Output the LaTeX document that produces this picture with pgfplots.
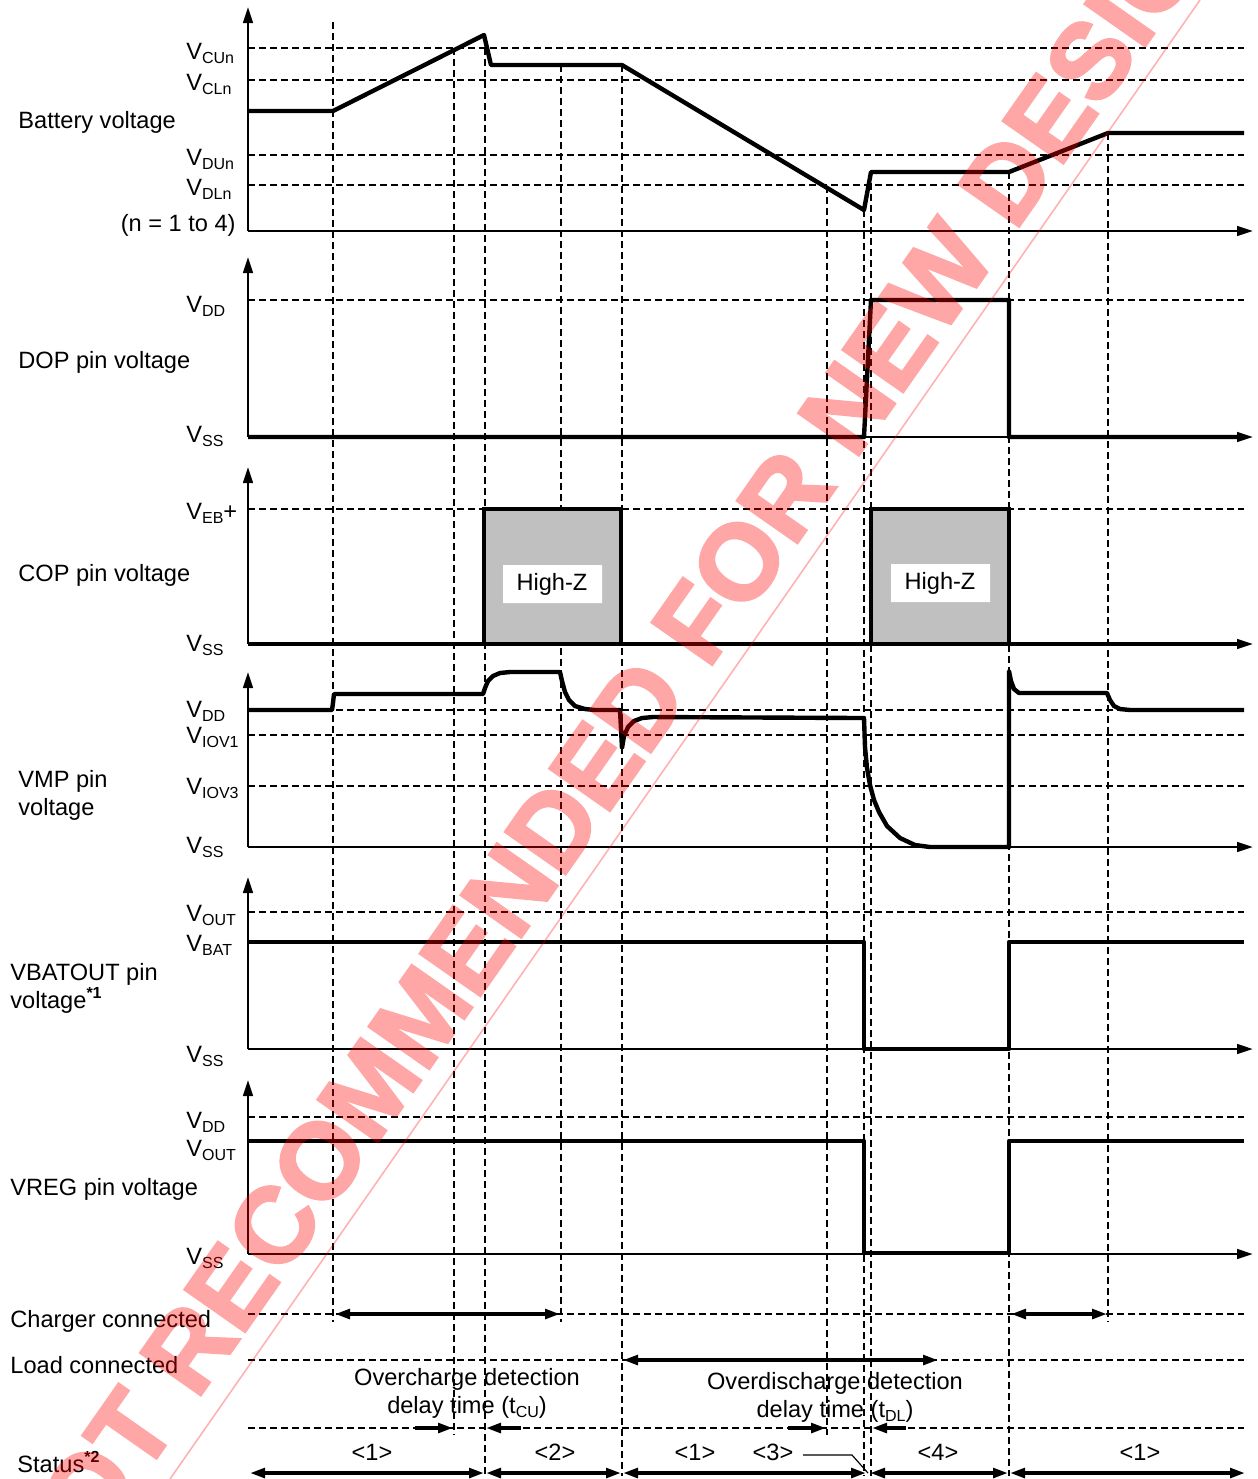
\documentclass[border=0pt]{standalone}
\usepackage{pgfplots}
\pgfplotsset{compat=1.18}
\usetikzlibrary{arrows.meta}
\usepackage{fontspec}
\setmainfont{Liberation Sans}
\newfontfamily\wmfont[FakeBold=2.5]{Liberation Sans Bold}
\newcommand{\sub}[1]{\raisebox{-2pt}{\fontsize{8}{9}\selectfont #1}}
\newcommand{\sups}[1]{\raisebox{5pt}{\fontsize{8}{9}\selectfont\bfseries #1}}
\definecolor{boxgray}{RGB}{192,192,192}
\begin{document}
\begin{tikzpicture}[every node/.style={font=\fontsize{11.8}{14}\selectfont, inner sep=0pt}]
\begin{axis}[hide axis, x=0.5pt, y=0.5pt, y dir=reverse,
  xmin=0, xmax=1258, ymin=0, ymax=1479, clip=false, no markers,
  anchor=origin, at={(0,0)},
  dashedln/.style={black, line width=0.55pt, dash pattern=on 3.5pt off 2pt},
  trace/.style={black, line width=2.2pt, line join=round},
  axisln/.style={black, line width=1.3pt},
  ax/.style={axisln, -{Triangle[length=8pt,width=4.8pt]}},
  dbl/.style={black, line width=1.8pt, {Triangle[length=7.5pt,width=4.8pt]}-{Triangle[length=7.5pt,width=4.8pt]}},
  sgl/.style={black, line width=1.8pt, -{Triangle[length=7.5pt,width=4.8pt]}},
]
\coordinate (TL) at (axis cs:0,0);
\coordinate (BR) at (axis cs:1258,1479);
\coordinate (WM) at (axis cs:620,732);

% horizontal dashed reference lines
\addplot[dashedln, unbounded coords=jump] coordinates {
 (248,48)(1244,48) (nan,nan) (248,80)(1244,80) (nan,nan)
 (248,155)(1244,155) (nan,nan) (248,185)(1244,185) (nan,nan)
 (248,300)(1244,300) (nan,nan) (248,509)(1244,509) (nan,nan)
 (248,710)(1244,710) (nan,nan) (248,735)(1244,735) (nan,nan)
 (248,786)(1244,786) (nan,nan) (248,912)(1244,912) (nan,nan)
 (248,1117)(1244,1117) (nan,nan)
 (248,1314)(1244,1314) (nan,nan) (248,1360)(1244,1360) (nan,nan)
 (248,1428)(1244,1428)};
% vertical dashed time markers
\addplot[dashedln, unbounded coords=jump] coordinates {
 (333,22)(333,1322) (nan,nan) (454,48)(454,1435) (nan,nan)
 (485,37)(485,1476) (nan,nan) (561,65)(561,1322) (nan,nan)
 (622,65)(622,1476) (nan,nan) (827,186)(827,1435) (nan,nan)
 (864,210)(864,1476) (nan,nan) (871,172)(871,1476) (nan,nan)
 (1009,172)(1009,1476) (nan,nan) (1108,133)(1108,1322)};

% COP High-Z boxes
\addplot[fill=boxgray, draw=black, line width=2pt] coordinates {(484,644)(484,509)(621,509)(621,644)(484,644)};
\addplot[fill=boxgray, draw=black, line width=2pt] coordinates {(871,644)(871,509)(1009,509)(1009,644)(871,644)};
\addplot[fill=white, draw=none] coordinates {(503,565)(602,565)(602,603)(503,603)(503,565)};
\addplot[fill=white, draw=none] coordinates {(891,564)(990,564)(990,602)(891,602)(891,564)};
\node[anchor=base] at (axis cs:552,590) {High-Z};
\node[anchor=base] at (axis cs:940,589) {High-Z};

% axes
\addplot[ax] coordinates {(248,231)(248,7)};
\addplot[ax] coordinates {(248,231)(1253,231)};
\addplot[ax] coordinates {(248,437)(248,257)};
\addplot[ax] coordinates {(248,437)(1253,437)};
\addplot[ax] coordinates {(248,644)(248,467)};
\addplot[ax] coordinates {(248,644)(1253,644)};
\addplot[ax] coordinates {(248,847)(248,672)};
\addplot[ax] coordinates {(248,847)(1253,847)};
\addplot[ax] coordinates {(248,1049)(248,877)};
\addplot[ax] coordinates {(248,1049)(1253,1049)};
\addplot[ax] coordinates {(248,1254)(248,1080)};
\addplot[ax] coordinates {(248,1254)(1253,1254)};

% traces
\addplot[trace] coordinates {(248,111)(333,111)(484,35)(491,65)(622,65)(864,210)(871,172)(1009,172)(1108,133)(1244,133)};
\addplot[trace] coordinates {(248,437)(864,437)(871,300)(1009,300)(1009,437)(1244,437)};
\addplot[trace] coordinates {(248,644)(484,644)};
\addplot[trace] coordinates {(621,644)(871,644)};
\addplot[trace] coordinates {(1009,644)(1244,644)};
\addplot[trace] coordinates {(248,710)(332,710)(333,703)(334,694)(483,694)(485,688)(488,681)(493,676)(500,673)(510,672)(560,672)(562,681)(565,692)(569,700)(575,706)(585,709)(595,710)(620,710)(622,748)(624,736)(628,727)(634,721)(642,718)(653,717)(864,718)(865,747)(867,768)(870,785)(874,800)(879,812)(887,826)(900,838)(915,845)(930,847)(1009,847)(1009,671)(1011,681)(1014,689)(1019,693)(1107,693)(1110,700)(1114,706)(1120,709)(1130,710)(1244,710)};
\addplot[trace] coordinates {(248,942)(864,942)(864,1049)(1009,1049)(1009,942)(1244,942)};
\addplot[trace] coordinates {(248,1141)(864,1141)(864,1253)(1009,1253)(1009,1141)(1244,1141)};

% time-span arrows
\addplot[dbl] coordinates {(335,1314)(560,1314)};
\addplot[dbl] coordinates {(1011,1314)(1107,1314)};
\addplot[dbl] coordinates {(623,1360)(938,1360)};
\addplot[sgl] coordinates {(415,1428)(453,1428)};
\addplot[sgl] coordinates {(521,1428)(486,1428)};
\addplot[sgl] coordinates {(788,1428)(826,1428)};
\addplot[sgl] coordinates {(906,1428)(872,1428)};
\addplot[dbl] coordinates {(250,1473)(484,1473)};
\addplot[dbl] coordinates {(486,1473)(621,1473)};
\addplot[dbl] coordinates {(623,1473)(866,1473)};
\addplot[dbl] coordinates {(870,1473)(1008,1473)};
\addplot[dbl] coordinates {(1010,1473)(1245,1473)};
\addplot[black, line width=0.6pt] coordinates {(803,1455)(852,1455)(868,1473)};

% level labels
\node[anchor=base west] at (axis cs:186,59) {V\sub{CUn}};
\node[anchor=base west] at (axis cs:186,90) {V\sub{CLn}};
\node[anchor=base west] at (axis cs:186,165) {V\sub{DUn}};
\node[anchor=base west] at (axis cs:186,195) {V\sub{DLn}};
\node[anchor=base east] at (axis cs:236,231) {(n = 1 to 4)};
\node[anchor=base west] at (axis cs:186,312) {V\sub{DD}};
\node[anchor=base west] at (axis cs:186,442) {V\sub{SS}};
\node[anchor=base west] at (axis cs:186,519) {V\sub{EB}+};
\node[anchor=base west] at (axis cs:186,651) {V\sub{SS}};
\node[anchor=base west] at (axis cs:186,717) {V\sub{DD}};
\node[anchor=base west] at (axis cs:186,743) {V\sub{IOV1}};
\node[anchor=base west] at (axis cs:186,794) {V\sub{IOV3}};
\node[anchor=base west] at (axis cs:186,853) {V\sub{SS}};
\node[anchor=base west] at (axis cs:186,921) {V\sub{OUT}};
\node[anchor=base west] at (axis cs:186,951) {V\sub{BAT}};
\node[anchor=base west] at (axis cs:186,1062) {V\sub{SS}};
\node[anchor=base west] at (axis cs:186,1128) {V\sub{DD}};
\node[anchor=base west] at (axis cs:186,1156) {V\sub{OUT}};
\node[anchor=base west] at (axis cs:186,1264) {V\sub{SS}};

% row labels
\node[anchor=base west] at (axis cs:18,128) {Battery voltage};
\node[anchor=base west] at (axis cs:18,368) {DOP pin voltage};
\node[anchor=base west] at (axis cs:18,581) {COP pin voltage};
\node[anchor=base west] at (axis cs:18,787) {VMP pin};
\node[anchor=base west] at (axis cs:18,815) {voltage};
\node[anchor=base west] at (axis cs:10,980) {VBATOUT pin};
\node[anchor=base west] at (axis cs:10,1008) {voltage\sups{*1}};
\node[anchor=base west] at (axis cs:10,1195) {VREG pin voltage};
\node[anchor=base west] at (axis cs:10,1327) {Charger connected};
\node[anchor=base west] at (axis cs:10,1373) {Load connected};
\node[anchor=base west] at (axis cs:17,1472) {Status\sups{*2}};

% delay-time texts
\node[anchor=base] at (axis cs:467,1385) {Overcharge detection};
\node[anchor=base] at (axis cs:467,1413) {delay time (t\sub{CU})};
\node[anchor=base] at (axis cs:835,1389) {Overdischarge detection};
\node[anchor=base] at (axis cs:835,1417) {delay time (t\sub{DL})};

% status numbers
\node[anchor=base] at (axis cs:372,1460) {<1>};
\node[anchor=base] at (axis cs:555,1460) {<2>};
\node[anchor=base] at (axis cs:695,1460) {<1>};
\node[anchor=base] at (axis cs:773,1460) {<3>};
\node[anchor=base] at (axis cs:938,1460) {<4>};
\node[anchor=base] at (axis cs:1140,1460) {<1>};

% watermark line
\addplot[red, opacity=0.3, line width=0.8pt] coordinates {(170,1479)(1200,0)};
\end{axis}
\begin{scope}[transparency group, opacity=0.35]
\node[rotate=55, text=red, font=\wmfont\fontsize{53.5}{60}\selectfont] at (WM) {NOT RECOMMENDED FOR NEW DESIGN};
\end{scope}
\pgfresetboundingbox
\path[use as bounding box] (TL) rectangle (BR);
\end{tikzpicture}
\end{document}
